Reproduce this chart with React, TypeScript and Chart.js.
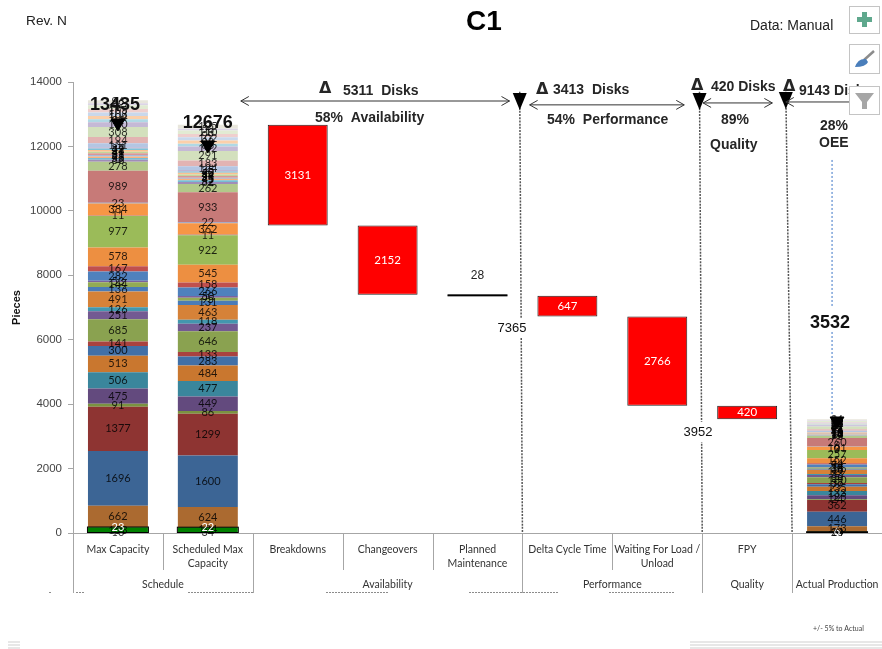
import React, { useEffect, useRef } from "react";
import { Chart, registerables } from "chart.js";

Chart.register(...registerables);

const categories: (string | string[])[] = [
  "Max Capacity",
  ["Scheduled Max", "Capacity"],
  "Breakdowns",
  "Changeovers",
  ["Planned", "Maintenance"],
  "Delta Cycle Time",
  ["Waiting For Load /", "Unload"],
  "FPY",
  "",
];

const groups = ["Schedule", "Availability", "Performance", "Quality", "Actual Production"];
const groupSpans = [2, 3, 2, 1, 1];

// Loss categories, bottom to top of each stacked column
const maxCapacity = [
  10, 153, 23, 662, 1696, 1377, 91, 475, 506, 513, 300, 141, 685, 251, 126, 491, 136, 144, 53, 282,
  167, 578, 977, 11, 384, 23, 989, 278, 66, 55, 48, 33, 61, 47, 58, 42, 37, 131, 194, 308, 150, 91,
  104, 108, 105, 117, 62, 96,
];
const scheduledMax = [
  34, 124, 22, 624, 1600, 1299, 86, 449, 477, 484, 283, 133, 646, 237, 118, 463, 131, 95, 50, 266,
  158, 545, 922, 11, 362, 22, 933, 262, 62, 52, 45, 31, 58, 44, 55, 40, 35, 124, 183, 291, 142, 86,
  98, 102, 99, 110, 58, 125,
];
const actualProduction = [
  10, 24, 6, 173, 446, 362, 24, 125, 133, 135, 79, 37, 180, 66, 33, 129, 36, 38, 14, 74, 44, 152,
  257, 3, 101, 6, 260, 73, 17, 14, 13, 9, 16, 12, 15, 11, 10, 34, 51, 81, 39, 24, 27, 28, 28, 31,
  16, 36,
];
const segmentColors = [
  "#008000", "#008000", "#008000", "#ab6a30", "#3c6595", "#8e3432", "#7a9340", "#634a7e",
  "#3a869c", "#c9772f", "#4170a7", "#a9423f", "#8aa250", "#735a92", "#4397ae", "#d68238",
  "#4a7cb8", "#93ab55", "#7b62a0", "#4f81bd", "#c0504d", "#ed8f41", "#9bbb59", "#8064a2",
  "#f79646", "#6f9bd1", "#c77a78", "#b2c98a", "#a08db8", "#77bdd3", "#f9b27f", "#8eaedb",
  "#d99795", "#c3d69b", "#fac090", "#7fc3d8", "#b3a2c7", "#b4c6e3", "#e2b3b2", "#d3e0bd",
  "#c5b9d6", "#b0d9e5", "#fbd0aa", "#c9d8ec", "#efcfce", "#e2ebd3", "#dcd5e6", "#e8e6dc",
];

// Floating waterfall losses between scheduled capacity and actual production
const lossRanges: ([number, number] | null)[] = [
  null, null, [9545, 12676], [7393, 9545], [7365, 7393], [6718, 7365], [3952, 6718], [3532, 3952], null,
];
const lossValues = [null, null, 3131, 2152, 28, 647, 2766, 420, null];

const columnTotals = [13435, 12676, null, null, null, null, null, null, 3532];
const targetMarkers = [12730, 12047, null, null, null, null, null, null, 3477];

const yTicks = [0, 2000, 4000, 6000, 8000, 10000, 12000, 14000];
const sans = '"Liberation Sans", Arial, sans-serif';
const narrow = "Lato, sans-serif";

const overlayPlugin = {
  id: "oeeOverlay",
  afterDatasetsDraw(chart: any) {
    const { ctx, scales } = chart;
    const xs = scales.x;
    const ys = scales.y;
    const X = (c: number) => xs.getPixelForValue(c);
    const Y = (v: number) => ys.getPixelForValue(v);
    const area = chart.chartArea;

    ctx.save();
    ctx.textAlign = "center";
    ctx.textBaseline = "middle";

    // Outline round the green base segments of each column
    [0, 1, 8].forEach((col) => {
      const low = chart.getDatasetMeta(0).data[col];
      const high = chart.getDatasetMeta(2).data[col];
      ctx.strokeStyle = "#000";
      ctx.lineWidth = 1;
      ctx.strokeRect(low.x - low.width / 2 - 0.5, high.y, low.width + 1, low.base - high.y);
    });

    // Value labels inside every bar segment
    chart.data.datasets.forEach((ds: any, di: number) => {
      if (ds.type === "line") return;
      const meta = chart.getDatasetMeta(di);
      meta.data.forEach((el: any, i: number) => {
        const raw = ds.data[i];
        if (raw === null || raw === undefined) return;
        if (ds.label === "Losses") {
          const v = lossValues[i] as number;
          if (v < 100) {
            // A loss this small collapses to a heavy rule with its label above
            ctx.fillStyle = "#000";
            ctx.fillRect(el.x - el.width / 2, el.y - 0.5, el.width, 2);
            ctx.font = `12px ${sans}`;
            ctx.fillStyle = "#222";
            ctx.fillText(String(v), el.x, el.y - 19);
          } else {
            ctx.font = `11.5px ${narrow}`;
            ctx.fillStyle = "#fff";
            ctx.fillText(String(v), el.x, (el.y + el.base) / 2);
          }
          return;
        }
        ctx.font = `11px ${narrow}`;
        ctx.fillStyle = di === 2 ? "#fff" : "rgba(0,0,0,0.82)";
        ctx.fillText(String(raw), el.x, (el.y + el.base) / 2);
      });
    });

    // Column totals
    ctx.font = `bold 18px ${sans}`;
    ctx.fillStyle = "#111";
    columnTotals.forEach((t, i) => {
      if (t === null) return;
      if (i === 8) ctx.fillText(String(t), X(i) - 7, Y(6530));
      else ctx.fillText(String(t), X(i) - 3 * (i === 0 ? 1 : 0), Y(t) + (i === 0 ? 5 : -2));
    });

    // Group dividers and the second axis row
    ctx.strokeStyle = "#a6a6a6";
    ctx.lineWidth = 1;
    const axisY = area.bottom;
    const line = (x1: number, y1: number, x2: number, y2: number) => {
      ctx.beginPath();
      ctx.moveTo(x1, y1);
      ctx.lineTo(x2, y2);
      ctx.stroke();
    };
    const boundaries = new Set<number>();
    let start = 0;
    groups.forEach((g, i) => {
      const end = start + groupSpans[i];
      boundaries.add(start);
      boundaries.add(end);
      ctx.font = `10.5px ${narrow}`;
      ctx.fillStyle = "#333";
      ctx.fillText(g, (X(start - 0.5) + X(end - 0.5)) / 2, axisY + 52);
      start = end;
    });
    for (let b = 0; b <= categories.length; b++) {
      const px = Math.round(X(b - 0.5)) + 0.5;
      line(px, axisY, px, boundaries.has(b) ? axisY + 60 : axisY + 37);
    }

    // Third axis row, cut off by the bottom edge of the axis band
    ctx.save();
    ctx.strokeStyle = "#8c8c8c";
    ctx.setLineDash([2, 1]);
    [[49, 52], [76, 85], [188, 254], [326, 388], [469, 558], [609, 674]].forEach(([a, b]) => {
      line(a, axisY + 59.5, b, axisY + 59.5);
    });
    ctx.restore();

    // Dashed drop lines with triangular markers at each OEE step
    const drops = [
      { top: 4.47, bottom: 4.5, mark: 13410 },
      { top: 6.47, bottom: 6.5, mark: 13410 },
      { top: 7.43, bottom: 7.5, mark: 13440 },
    ];
    drops.forEach((d) => {
      ctx.save();
      ctx.strokeStyle = "#555";
      ctx.lineWidth = 1.5;
      ctx.setLineDash([2, 1.2]);
      line(X(d.top), Y(13700), X(d.bottom), Y(0));
      ctx.restore();
      ctx.fillStyle = "#000";
      ctx.beginPath();
      const mx = X(d.top);
      const my = Y(d.mark);
      ctx.moveTo(mx - 7, my - 8);
      ctx.lineTo(mx + 7, my - 8);
      ctx.lineTo(mx, my + 9);
      ctx.closePath();
      ctx.fill();
    });

    // OEE leader line, broken around the production total
    ctx.save();
    ctx.strokeStyle = "#5b8bd0";
    ctx.lineWidth = 1.2;
    ctx.setLineDash([2, 2]);
    line(X(8) - 5, Y(11580), X(8) - 5, Y(6990));
    line(X(8) - 5, Y(6240), X(8) - 5, Y(3660));
    ctx.restore();

    // Double-headed span arrows
    const arrow = (x1: number, x2: number, v: number) => {
      const y = Y(v);
      ctx.strokeStyle = "#333";
      ctx.lineWidth = 1;
      line(x1, y, x2, y);
      ctx.beginPath();
      ctx.moveTo(x1 + 8, y - 4.5);
      ctx.lineTo(x1, y);
      ctx.lineTo(x1 + 8, y + 4.5);
      ctx.moveTo(x2 - 8, y - 4.5);
      ctx.lineTo(x2, y);
      ctx.lineTo(x2 - 8, y + 4.5);
      ctx.stroke();
    };
    arrow(X(1.367), X(4.356), 13410);
    arrow(X(4.58), X(6.3), 13290);
    arrow(X(6.51), X(7.28), 13350);
    arrow(X(7.43), X(8.47), 13380);

    // Span captions
    const text = (s: string, x: number, y: number, font: string, color = "#262626", align = "left") => {
      ctx.font = font;
      ctx.fillStyle = color;
      ctx.textAlign = align;
      ctx.fillText(s, x, y);
    };
    const bold = `bold 14px ${sans}`;
    const delta = `bold 16px "DejaVu Sans", sans-serif`;
    text("\u0394", 319, 89, delta);
    text("5311  Disks", 343, 91, bold);
    text("58%  Availability", 315, 118, bold);
    text("\u0394", 536, 90, delta);
    text("3413  Disks", 553, 90, bold);
    text("54%  Performance", 547, 120, bold);
    text("\u0394", 691, 86, delta);
    text("420 Disks", 711, 87, bold);
    text("89%", 721, 120, bold);
    text("Quality", 710, 145, bold);
    text("\u0394", 783, 87, delta);
    text("9143 Disks", 799, 91, bold);
    text("28%", 820, 126, bold);
    text("OEE", 819, 143, bold);

    // Running-total callouts, knocked out of the drop lines
    const callout = (s: string, x: number, y: number) => {
      ctx.font = `13px ${sans}`;
      const w = ctx.measureText(s).width;
      ctx.fillStyle = "#fff";
      ctx.fillRect(x - w / 2 - 2, y - 10, w + 4, 20);
      ctx.fillStyle = "#111";
      ctx.textAlign = "center";
      ctx.fillText(s, x, y);
    };
    callout("7365", 512, 328);
    callout("3952", 698, 432);

    // Page furniture
    text("Rev. N", 26, 21, `13.7px ${sans}`, "#222");
    text("C1", 466, 22, `bold 28px ${sans}`, "#000");
    text("Data: Manual", 750, 26, `14px ${sans}`, "#222");
    text("+/- 5% to Actual", 813, 629, `7px ${narrow}`, "#444");

    ctx.strokeStyle = "#cfcfcf";
    [642, 645, 648].forEach((y) => {
      line(8, y, 20, y);
      line(690, y, 882, y);
    });

    // Chart tool buttons
    const button = (top: number, h: number) => {
      ctx.fillStyle = "#fff";
      ctx.fillRect(849.5, top + 0.5, 30, h);
      ctx.strokeStyle = "#c4c4c4";
      ctx.strokeRect(849.5, top + 0.5, 30, h);
    };
    button(6, 27);
    ctx.fillStyle = "#5fa88d";
    ctx.fillRect(857, 17, 15, 5);
    ctx.fillRect(862, 12, 5, 15);
    button(44, 29);
    ctx.strokeStyle = "#8c8c8c";
    ctx.lineWidth = 2.5;
    line(864, 60, 874, 51);
    ctx.fillStyle = "#4a7ebb";
    ctx.beginPath();
    ctx.moveTo(855, 67);
    ctx.quadraticCurveTo(858, 58, 866, 59);
    ctx.lineTo(868, 62);
    ctx.quadraticCurveTo(866, 67, 855, 67);
    ctx.fill();
    ctx.lineWidth = 1;
    button(86, 28);
    ctx.fillStyle = "#a6a6a6";
    ctx.beginPath();
    ctx.moveTo(855, 93);
    ctx.lineTo(874, 93);
    ctx.lineTo(867, 102);
    ctx.lineTo(867, 109);
    ctx.lineTo(862, 109);
    ctx.lineTo(862, 102);
    ctx.closePath();
    ctx.fill();

    ctx.restore();
  },
};

export default function App() {
  const ref = useRef<HTMLCanvasElement>(null);

  useEffect(() => {
    document.body.style.margin = "0";
    const segments = segmentColors.map((color, i) => ({
      type: "bar" as const,
      label: `Segment ${i + 1}`,
      data: [maxCapacity[i], scheduledMax[i], null, null, null, null, null, null, actualProduction[i]],
      backgroundColor: color,
      borderWidth: 0,
      barPercentage: 0.667,
      categoryPercentage: 1,
      stack: "main",
      order: 2,
    }));
    const chart = new Chart(ref.current!, {
      type: "bar",
      data: {
        labels: categories as any,
        datasets: [
          ...segments,
          {
            type: "bar" as const,
            label: "Losses",
            data: lossRanges as any,
            backgroundColor: "#ff0000",
            borderColor: "#222",
            borderWidth: 1,
            borderSkipped: false,
            barPercentage: 0.667,
            categoryPercentage: 1,
            stack: "main",
            order: 2,
          },
          {
            type: "line" as const,
            label: "Target",
            data: targetMarkers,
            showLine: false,
            pointStyle: "triangle",
            pointRotation: 180,
            pointRadius: 8,
            pointBackgroundColor: "#000",
            pointBorderColor: "#000",
            order: 1,
          },
        ],
      } as any,
      options: {
        responsive: false,
        animation: false,
        devicePixelRatio: 1,
        layout: { padding: { top: 82, left: 0, right: 8, bottom: 0 } },
        plugins: { legend: { display: false }, tooltip: { enabled: false } },
        scales: {
          x: {
            type: "category",
            stacked: true,
            offset: true,
            grid: { display: false, drawTicks: false },
            border: { display: true, color: "#a6a6a6" },
            ticks: {
              autoSkip: false,
              maxRotation: 0,
              minRotation: 0,
              padding: 9,
              color: "#333",
              font: { family: "Lato, sans-serif", size: 10.5, lineHeight: 1.36 },
            },
            afterFit: (s: any) => {
              s.height = 116;
            },
          },
          y: {
            type: "linear",
            stacked: true,
            min: 0,
            max: 14000,
            afterBuildTicks: (s: any) => {
              s.ticks = yTicks.map((value) => ({ value }));
            },
            grid: { drawOnChartArea: false, color: "#a6a6a6", tickLength: 5 },
            border: { display: true, color: "#a6a6a6" },
            ticks: {
              padding: 6,
              color: "#444",
              font: { family: '"Liberation Sans", Arial, sans-serif', size: 11.5 },
              callback: (v: any) => String(v),
            },
            title: {
              display: true,
              text: "Pieces",
              color: "#111",
              padding: { top: 10, bottom: 0 },
              font: { family: '"Liberation Sans", Arial, sans-serif', size: 11, weight: "bold" },
            },
            afterFit: (s: any) => {
              s.width = 73;
            },
          },
        },
      },
      plugins: [overlayPlugin],
    } as any);
    return () => chart.destroy();
  }, []);

  return (
    <div style={{ position: "fixed", left: 0, top: 0, width: 882, height: 649, overflow: "hidden", background: "#fff" }}>
      <canvas ref={ref} width={891} height={649} style={{ display: "block" }} />
    </div>
  );
}
